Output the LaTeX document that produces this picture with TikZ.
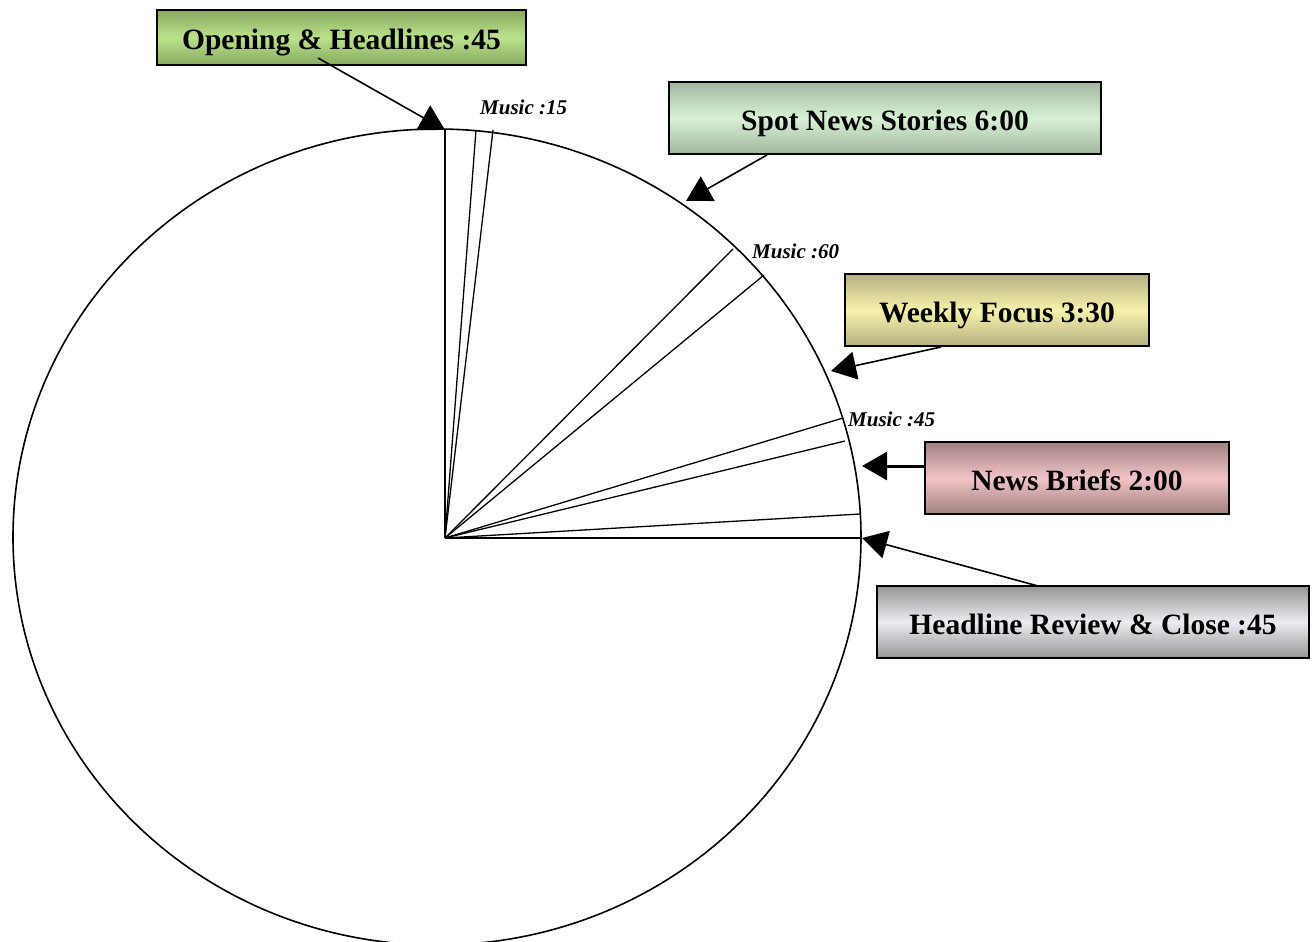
\documentclass[tikz,border=0pt]{standalone}
\usepackage{fontspec}
\setmainfont{Liberation Serif}
\usetikzlibrary{arrows.meta}
\definecolor{grnD}{RGB}{135,170,95}
\definecolor{grnL}{RGB}{186,226,140}
\definecolor{mntD}{RGB}{162,182,160}
\definecolor{mntL}{RGB}{216,242,212}
\definecolor{ylwD}{RGB}{182,176,130}
\definecolor{ylwL}{RGB}{246,242,172}
\definecolor{pnkD}{RGB}{160,128,128}
\definecolor{pnkL}{RGB}{242,196,200}
\definecolor{gryD}{RGB}{150,150,150}
\definecolor{gryL}{RGB}{236,236,242}
\tikzset{
  boxnode/.style={draw=black, line width=1.6pt, minimum height=#1, inner sep=0pt,
    text height=25pt, text depth=0pt,
    font=\fontsize{29.5}{31}\selectfont\bfseries},
  musiclabel/.style={font=\fontsize{21}{23}\selectfont\bfseries\itshape, inner sep=0pt},
  pointer/.style={line width=1.6pt, -{Triangle[length=25pt,width=28pt]}},
  sector/.style={line width=1.3pt},
}
\begin{document}
\begin{tikzpicture}[x=1pt,y=-1pt]
\useasboundingbox (0,0) rectangle (1314,942);
% pie
\draw[line width=1.6pt] (437,537) ellipse [x radius=424pt, y radius=408pt];
\coordinate (c) at (445,538);
\coordinate (e1) at (445,129);
\coordinate (e2) at (476,130);
\coordinate (e3) at (493,130);
\coordinate (e4) at (733,249);
\coordinate (e5) at (764,275);
\coordinate (e6) at (843,418);
\coordinate (e7) at (845,441);
\coordinate (e8) at (860,514);
\coordinate (e9) at (861,538);
\foreach \e in {e1,e2,e3,e4,e5,e6,e7,e8,e9}{\draw[sector] (c) -- (\e);}
% music labels
\node[musiclabel, anchor=west] (m15) at (480,107) {Music :15};
\node[musiclabel, anchor=west] (m60) at (752,251) {Music :60};
\node[musiclabel, anchor=west] (m45) at (848,419) {Music :45};
% boxes
\node[boxnode=55pt, minimum width=369pt, top color=grnD, bottom color=grnD, middle color=grnL] (open) at (341.5,37.5) {Opening \& Headlines :45};
\node[boxnode=72pt, minimum width=432pt, top color=mntD, bottom color=mntD, middle color=mntL] (spot) at (885,118) {Spot News Stories 6:00};
\node[boxnode=72pt, minimum width=304pt, top color=ylwD, bottom color=ylwD, middle color=ylwL] (week) at (997,310) {Weekly Focus 3:30};
\node[boxnode=72pt, minimum width=304pt, top color=pnkD, bottom color=pnkD, middle color=pnkL] (brief) at (1077,478) {News Briefs 2:00};
\node[boxnode=72pt, minimum width=432pt, top color=gryD, bottom color=gryD, middle color=gryL] (close) at (1093,622) {Headline Review \& Close :45};
% pointer start and tip coordinates
\coordinate (s1) at (318,58);
\coordinate (t1) at (445,130);
\coordinate (s2) at (767,155);
\coordinate (t2) at (686,201);
\coordinate (s3) at (941,347);
\coordinate (t3) at (831,371);
\coordinate (t4) at (862,466);
\coordinate (s5) at (1038,586);
\coordinate (t5) at (862,538);
\draw[pointer] (s1) -- (t1);
\draw[pointer] (s2) -- (t2);
\draw[pointer] (s3) -- (t3);
\draw[pointer, line width=3pt] (brief.west |- t4) -- (t4);
\draw[pointer] (s5) -- (t5);
\end{tikzpicture}
\end{document}
